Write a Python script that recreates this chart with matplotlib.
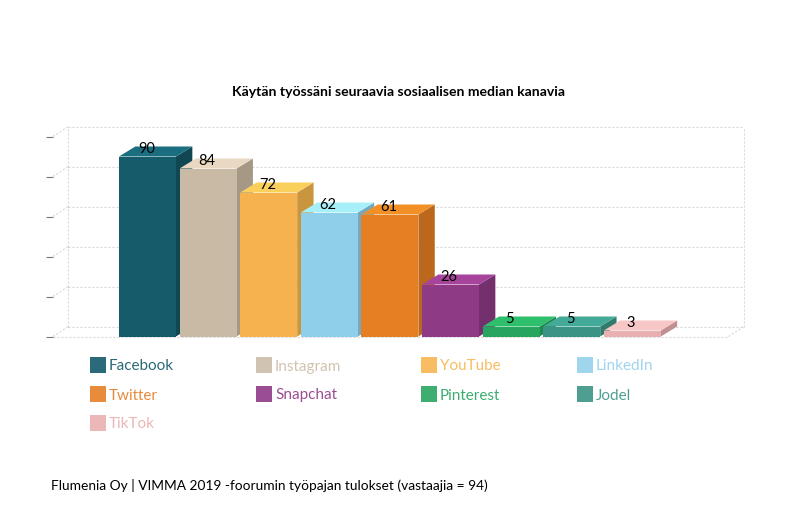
import matplotlib
matplotlib.use('Agg')
import matplotlib.pyplot as plt
from matplotlib.patches import Rectangle

channels = ['Facebook', 'Instagram', 'YouTube', 'LinkedIn', 'Twitter', 'Snapchat', 'Pinterest', 'Jodel', 'TikTok']
values = [90, 84, 72, 62, 61, 26, 5, 5, 3]
front_colors = ['#155b6a', '#c9baa5', '#f6b24f', '#8fcfea', '#e47f23', '#8e3a85', '#27a55f', '#3a9384', '#e8b0b0']
top_colors = ['#1a6e7f', '#e9d9c2', '#fbcf5c', '#a8f0f9', '#f28f27', '#a6449c', '#2ebf6d', '#43aa99', '#f7c6c6']
side_colors = ['#114753', '#a59986', '#c9953e', '#75a9c0', '#bb681d', '#74306d', '#20874e', '#307a6c', '#be9090']
legend_colors = ['#2a6a79', '#d0c3b1', '#f8bd62', '#9fd6ee', '#e88b3a', '#9a4d92', '#3dae70', '#4e9e91', '#ebb7b7']
y_ticks = [0, 20, 40, 60, 80, 100]

W, H = 800, 520
plt.rcParams['font.family'] = ['Lato', 'DejaVu Sans']

fig = plt.figure(figsize=(8, 5.2), dpi=100)
ax = fig.add_axes([53 / W, (H - 336.5) / H, 675.5 / W, 200 / H])
ax.set_xlim(-1.559, 9.587)
ax.set_ylim(0, 100)
for s in ax.spines.values():
    s.set_visible(False)
ax.patch.set_visible(False)
ax.set_xticks([])
ax.set_yticks(y_ticks)
ax.set_yticklabels([])
ax.tick_params(axis='y', length=5, width=0.8, color='#777777')

# depth of the fake 3d box, in data units
dx = 0.27
wall_dx = 0.255
dy = 5
x0, x1 = ax.get_xlim()
grid = dict(color='#d4d4d4', lw=0.8, ls=(0, (1.8, 1.8)), clip_on=False, zorder=1)

# back wall, left wall and floor
for y in y_ticks:
    ax.plot([x0 + wall_dx, x1 + wall_dx], [y + dy, y + dy], **grid)
    ax.plot([x0, x0 + wall_dx], [y, y + dy], **grid)
ax.plot([x0 + wall_dx, x0 + wall_dx], [dy, 100 + dy], **grid)
ax.plot([x1 + wall_dx, x1 + wall_dx], [dy, 100 + dy], **grid)
ax.plot([x0, x1], [0, 0], **grid)
ax.plot([x1, x1 + wall_dx], [0, dy], **grid)

bw = 0.94
for i, v in enumerate(values):
    l = i - bw / 2
    r = i + bw / 2
    z = 3 + i
    ax.fill([r, r + dx, r + dx, r], [0, dy, v + dy, v], color=side_colors[i], lw=0, clip_on=False, zorder=z)
    ax.fill([l, l + dx, r + dx, r], [v, v + dy, v + dy, v], color=top_colors[i], lw=0, clip_on=False, zorder=z)
    ax.bar(i, v, width=bw, color=front_colors[i], lw=0, zorder=z)
for i, v in enumerate(values):
    ax.text(i - 0.02, v + 3.8, str(v), ha='center', va='center', fontsize=10.5, color='black', zorder=20, clip_on=False)

# legend, three rows of four, text coloured like the swatch
col_x = [90, 256, 421, 577]
row_y = [365, 394, 423]
for i, name in enumerate(channels):
    px = col_x[i % 4]
    py = row_y[i // 4]
    fig.add_artist(Rectangle((px / W, (H - py - 8) / H), 16 / W, 16 / H, transform=fig.transFigure,
                             facecolor=legend_colors[i], edgecolor='none'))
    fig.text((px + 19) / W, (H - py - 1.5) / H, name, color=legend_colors[i], fontsize=10.95, va='center', ha='left')

fig.text(398.5 / W, (H - 92.5) / H, 'Käytän työssäni seuraavia sosiaalisen median kanavia',
         fontsize=10.05, fontweight='bold', ha='center', va='center', color='black')
fig.text(51 / W, (H - 485) / H, 'Flumenia Oy | VIMMA 2019 -foorumin työpajan tulokset (vastaajia = 94)',
         fontsize=9.95, ha='left', va='center', color='black')

fig.savefig('out.png', dpi=100)
